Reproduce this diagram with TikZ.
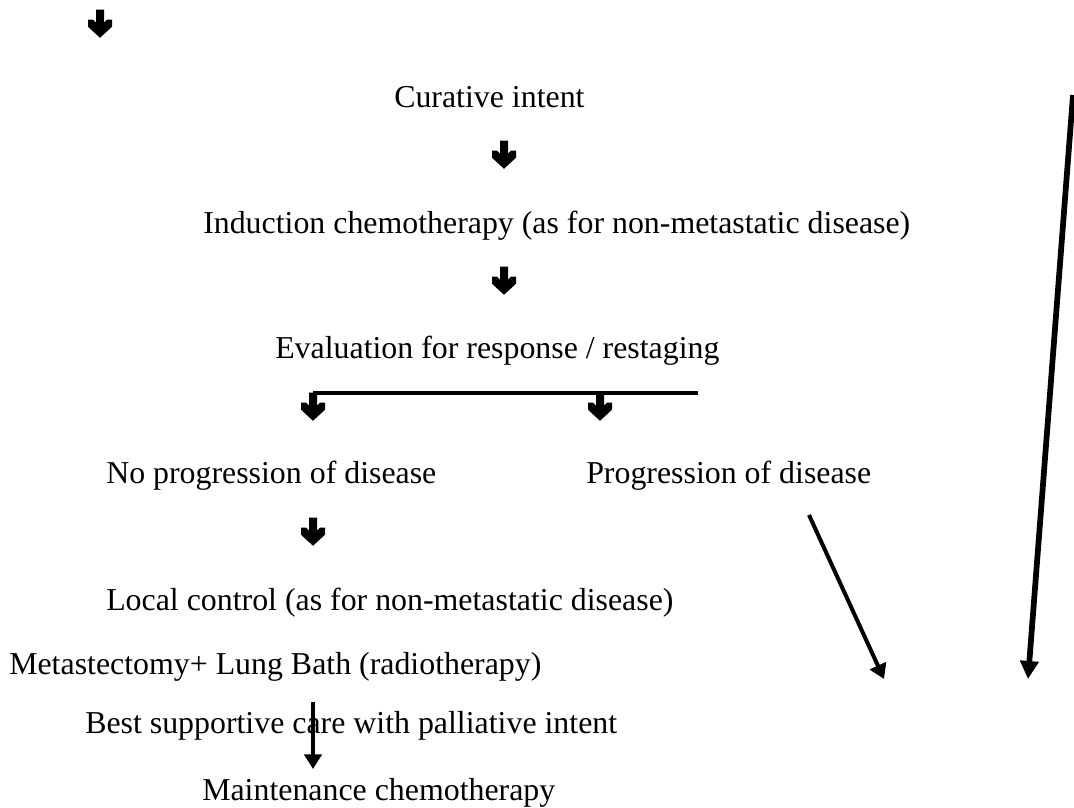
\documentclass[tikz,border=0pt]{standalone}
\usepackage{fontspec}
\setmainfont{Liberation Serif}
\usetikzlibrary{arrows.meta}
\newcommand{\heavydown}[2]{%
  \node[hbox] (#1) at (#2) {};
  \fill[shift={(#1.north)}]
    (-4,0) -- (4,0) -- (4,13) -- (7,10) -- (12,10) -- (12,17) -- (0,28)
    -- (-12,17) -- (-12,10) -- (-7,10) -- (-4,13) -- cycle;
}
\begin{document}
\begin{tikzpicture}[x=0.75pt,y=-0.75pt,
  lbl/.style={anchor=base west,inner sep=0pt,font=\fontsize{23.9}{28}\selectfont},
  hbox/.style={minimum width=18pt,minimum height=21pt,inner sep=0pt},
  conn/.style={line width=2.6pt},
  thinarr/.style={line width=3pt,-{Triangle[length=11pt,width=13pt]}},
  thickarr/.style={line width=4.3pt,-{Triangle[length=13.5pt,width=13.5pt]}}
]
\useasboundingbox[fill=white] (0,0) rectangle (1074,807);

\heavydown{a0}{100,24}
\node[lbl] (cur) at (394,107) {Curative intent};
\heavydown{a1}{504,155}
\node[lbl] (ind) at (203,233) {Induction chemotherapy (as for non-metastatic disease)};
\heavydown{a2}{504,281}
\node[lbl] (eva) at (275,358) {Evaluation for response / restaging};

\coordinate (bl) at (313,393);
\coordinate (br) at (698,393);
\draw[conn] (bl) -- (br);
\heavydown{a3}{313,407}
\heavydown{a4}{600,407}

\node[lbl] (nop) at (106,483) {No progression of disease};
\node[lbl] (pro) at (586,483) {Progression of disease};
\heavydown{a5}{313,532}
\node[lbl] (loc) at (106,610) {Local control (as for non-metastatic disease)};
\node[lbl] (met) at (9,674) {Metastectomy+ Lung Bath (radiotherapy)};
\node[lbl] (bsc) at (85,733) {Best supportive care with palliative intent};
\node[lbl] (mai) at (202,800) {Maintenance chemotherapy};

\coordinate (t1) at (313,702);
\coordinate (h1) at (313,769);
\draw[thinarr] (t1) -- (h1);

\coordinate (t2) at (809,515);
\coordinate (h2) at (884,679);
\draw[thinarr] (t2) -- (h2);

\coordinate (t3) at (1073,95);
\coordinate (h3) at (1028,679);
\draw[thickarr] (t3) -- (h3);
\end{tikzpicture}
\end{document}
